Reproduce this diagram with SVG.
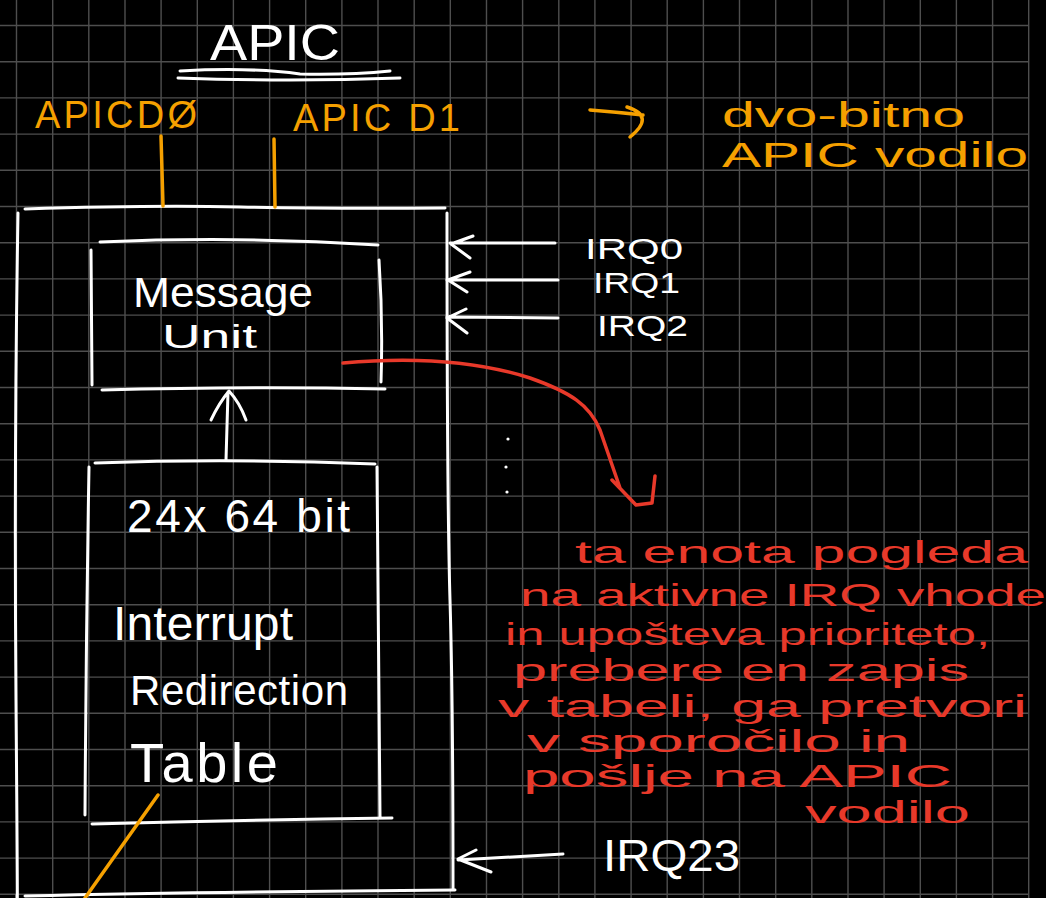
<svg xmlns="http://www.w3.org/2000/svg" width="1046" height="898" viewBox="0 0 1046 898">
<style>
.t{font-family:"Liberation Sans",Arial,sans-serif;}
.w{fill:#ffffff;}
.o{fill:#f5a000;}
.r{fill:#e8392a;}
.sw{fill:none;stroke:#ffffff;stroke-width:3;stroke-linecap:round;stroke-linejoin:round;}
.so{fill:none;stroke:#f5a000;stroke-width:3.5;stroke-linecap:round;stroke-linejoin:round;}
.sr{fill:none;stroke:#e8392a;stroke-width:3.5;stroke-linecap:round;stroke-linejoin:round;}
</style>
<rect width="1046" height="898" fill="#000000"/>
<path fill="none" stroke="#4e4e4e" stroke-width="1.4" d="M16.5 0V898M52.7 0V898M88.8 0V898M125 0V898M161.1 0V898M197.3 0V898M233.4 0V898M269.6 0V898M305.7 0V898M341.9 0V898M378 0V898M414.2 0V898M450.3 0V898M486.5 0V898M522.6 0V898M558.8 0V898M594.9 0V898M631.1 0V898M667.2 0V898M703.4 0V898M739.5 0V898M775.7 0V898M811.8 0V898M848 0V898M884.1 0V898M920.3 0V898M956.4 0V898M992.6 0V898M1028.7 0V898M0 25.5H1029M0 61.7H1029M0 97.9H1029M0 134.1H1029M0 170.3H1029M0 206.5H1029M0 242.7H1029M0 278.9H1029M0 315.1H1029M0 351.3H1029M0 387.5H1029M0 423.7H1029M0 459.9H1029M0 496.1H1029M0 532.3H1029M0 568.5H1029M0 604.7H1029M0 640.9H1029M0 677.1H1029M0 713.3H1029M0 749.5H1029M0 785.7H1029M0 821.9H1029M0 858.1H1029M0 894.3H1029"/>

<g id="apic-title">
<text class="t w" x="210" y="60" font-size="50" textLength="130" lengthAdjust="spacingAndGlyphs">APIC</text>
<path class="sw" d="M180 71Q250 67 300 74Q350 75 390 71M178 78Q290 82 400 78"/>
</g>

<g id="bus-labels">
<text class="t o" x="35" y="128" font-size="38" textLength="162" lengthAdjust="spacing">APICDØ</text>
<text class="t o" x="293" y="131" font-size="38" textLength="167" lengthAdjust="spacing">APIC D1</text>
</g>

<g id="bus-note">
<text class="t o" x="722" y="127" font-size="35" textLength="243" lengthAdjust="spacingAndGlyphs">dvo-bitno</text>
<text class="t o" x="722" y="167" font-size="35" textLength="306" lengthAdjust="spacingAndGlyphs">APIC vodilo</text>
</g>

<g id="io-apic">
<path class="sw" d="M25 209Q150 205 240 207T445 208M18 213Q14 450 16 700T17 895M447 213Q447 500 450 600T453 888M25 896Q200 892 455 890"/>
</g>

<g id="message-unit">
<path class="sw" d="M100 242Q240 236 378 245M91 250L92 385M379 260Q383 320 381 382M102 390Q250 386 385 389"/>
<text class="t w" x="133" y="307" font-size="42" textLength="180" lengthAdjust="spacingAndGlyphs">Message</text>
<text class="t w" x="162" y="348" font-size="34" textLength="95" lengthAdjust="spacingAndGlyphs">Unit</text>
</g>

<g id="redirection-table">
<path class="sw" d="M95 463Q230 458 375 464M89 467Q86 640 85 815M377 467Q378 640 380 817M92 824Q240 820 392 818"/>
<text class="t w" x="127" y="532" font-size="46" textLength="223" lengthAdjust="spacing">24x 64 bit</text>
<text class="t w" x="113" y="640" font-size="48" textLength="180" lengthAdjust="spacing">Interrupt</text>
<text class="t w" x="130" y="705" font-size="42" textLength="218" lengthAdjust="spacing">Redirection</text>
<text class="t w" x="130" y="782" font-size="56" textLength="148" lengthAdjust="spacing">Table</text>
</g>

<g id="irq-inputs">
<text class="t w" x="585" y="259" font-size="30" textLength="98" lengthAdjust="spacingAndGlyphs">IRQ0</text>
<text class="t w" x="593" y="293" font-size="30" textLength="87" lengthAdjust="spacingAndGlyphs">IRQ1</text>
<text class="t w" x="597" y="336" font-size="30" textLength="91" lengthAdjust="spacingAndGlyphs">IRQ2</text>
<text class="t w" x="603" y="871" font-size="44" textLength="137" lengthAdjust="spacingAndGlyphs">IRQ23</text>
<circle cx="508" cy="439" r="1.6" fill="#ffffff"/>
<circle cx="506" cy="467" r="1.6" fill="#ffffff"/>
<circle cx="507" cy="492" r="1.6" fill="#ffffff"/>
</g>

<g id="note">
<g class="t r" font-size="31.5">
<text x="575" y="563" textLength="453" lengthAdjust="spacingAndGlyphs">ta enota pogleda</text>
<text x="520" y="606" textLength="526" lengthAdjust="spacingAndGlyphs">na aktivne IRQ vhode</text>
<text x="505" y="645" textLength="485" lengthAdjust="spacingAndGlyphs">in upošteva prioriteto,</text>
<text x="513" y="681" textLength="456" lengthAdjust="spacingAndGlyphs">prebere en zapis</text>
<text x="498" y="717" textLength="529" lengthAdjust="spacingAndGlyphs">v tabeli, ga pretvori</text>
<text x="527" y="752" textLength="383" lengthAdjust="spacingAndGlyphs">v sporočilo in</text>
<text x="523" y="787" textLength="429" lengthAdjust="spacingAndGlyphs">pošlje na APIC</text>
<text x="805" y="823" textLength="165" lengthAdjust="spacingAndGlyphs">vodilo</text>
</g>
</g>

<g id="connectors">
<path class="so" d="M161 136L163 206M274 139L275 207"/>
<path class="so" d="M590 110Q615 112 643 115M627 107Q656 116 630 137" stroke-width="3"/>
<path class="so" d="M158 795L85 898" stroke-width="1.5"/>
<path class="sw" stroke-width="3.5" d="M226 460L228 392M211 420Q219 403 229 391Q240 403 246 420"/>
<path class="sw" d="M555 243L450 243M473 236L451 244L470 258"/>
<path class="sw" d="M558 280L447 280M470 272L448 280L467 292"/>
<path class="sw" d="M558 318L447 317M466 309L447 318L467 333"/>
<path class="sw" d="M563 854L458 860M476 850L458 859L491 872"/>
<path class="sr" d="M343 363C420 356 480 362 530 378C570 392 590 405 600 430L620 488M612 480L636 505L652 503L655 476"/>
</g>
</svg>
